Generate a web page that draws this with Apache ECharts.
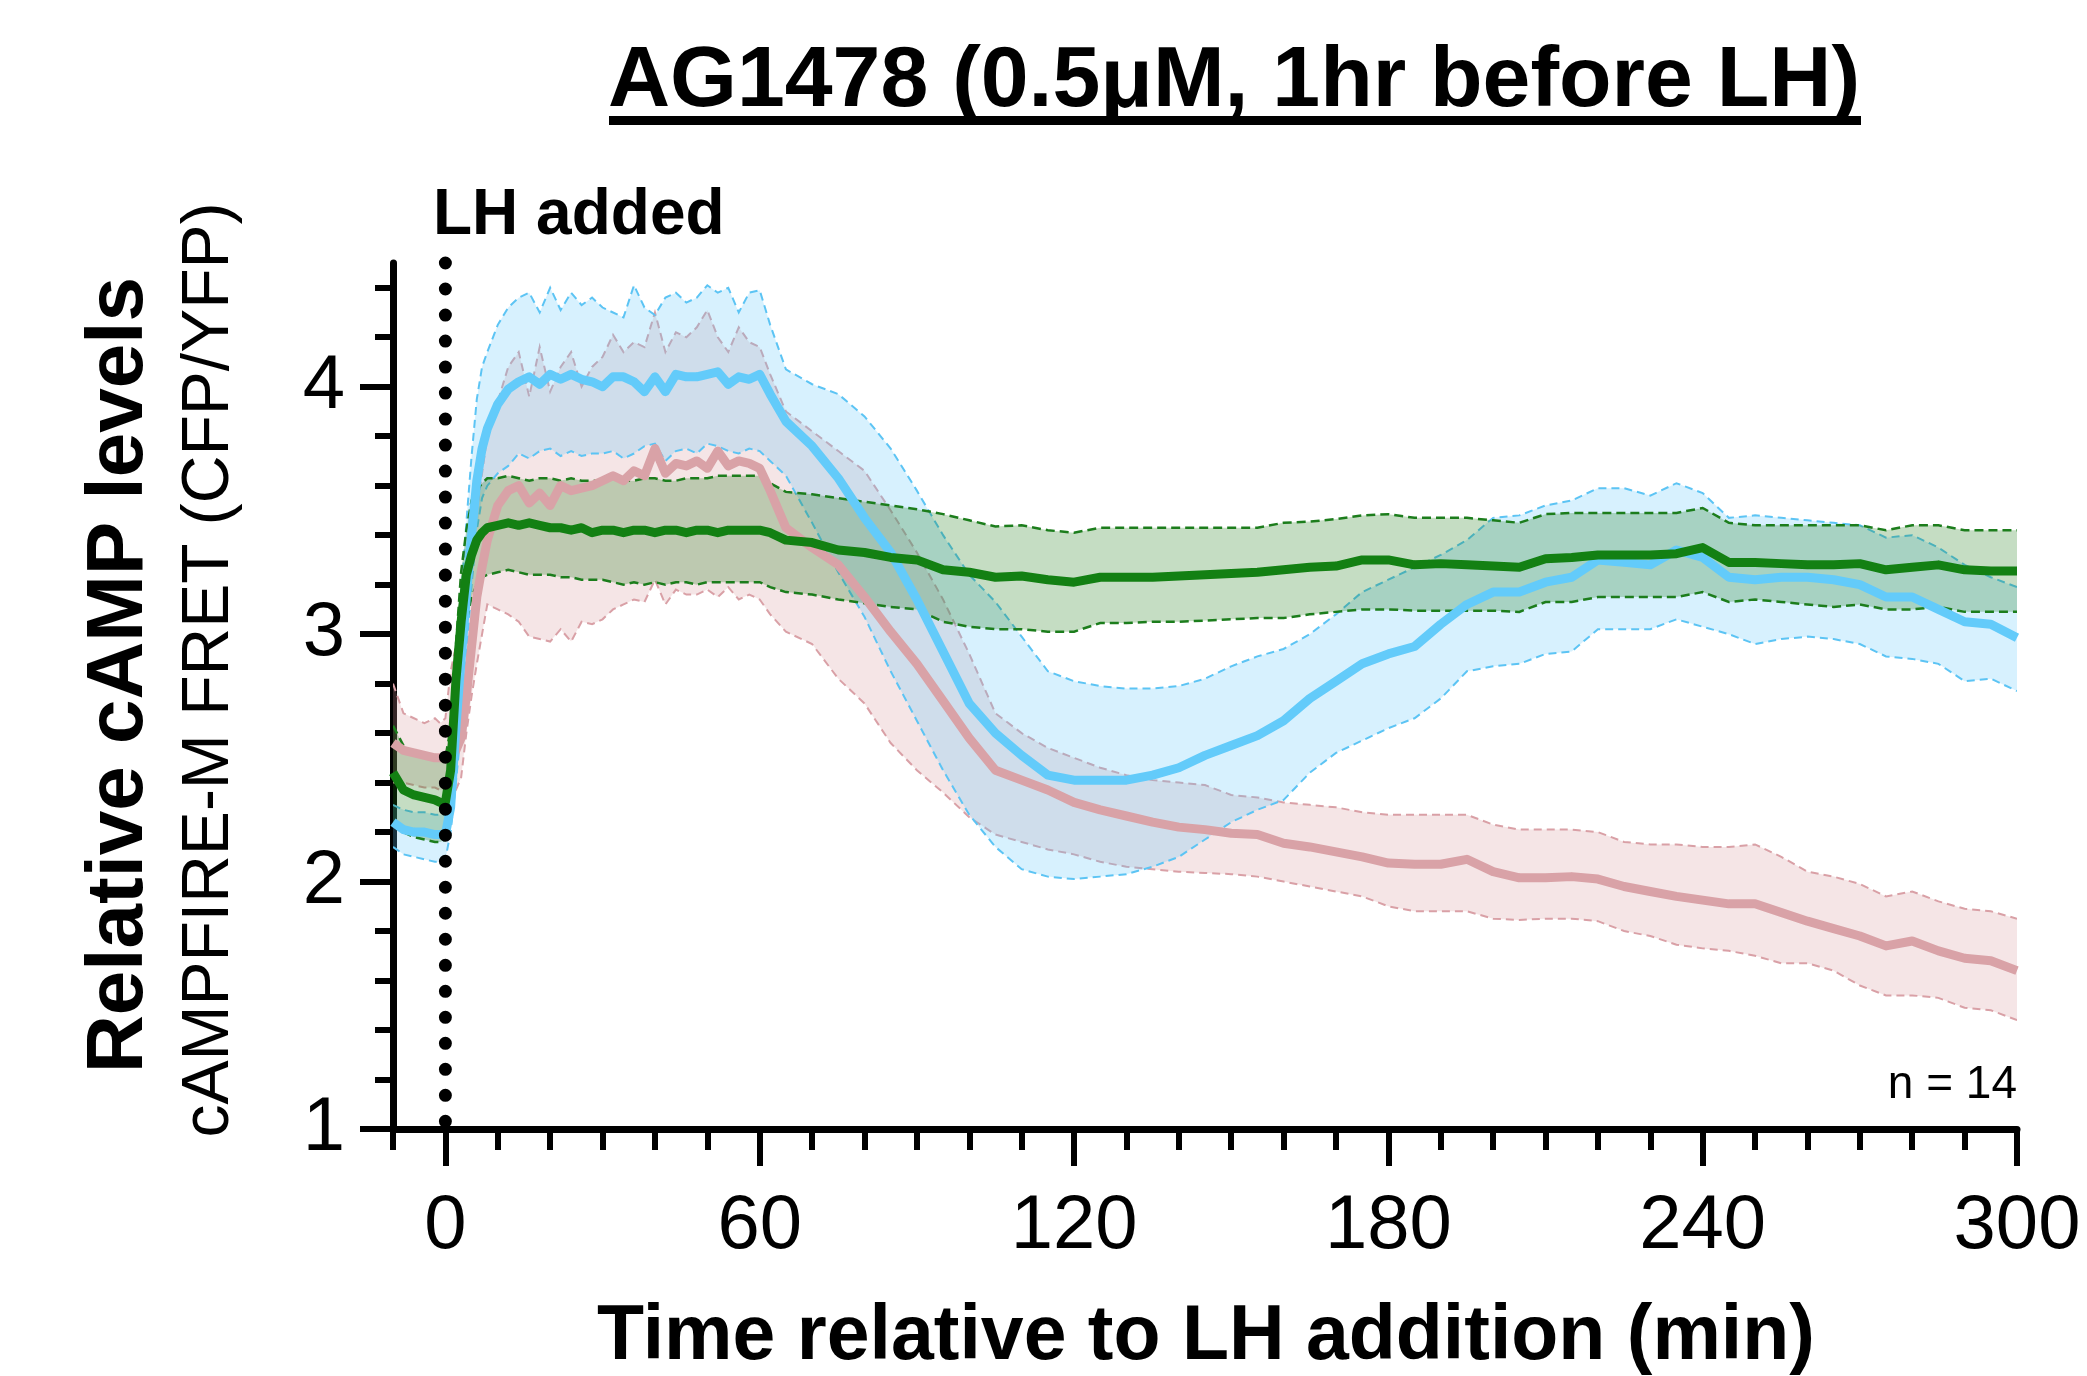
<!DOCTYPE html>
<html>
<head>
<meta charset="utf-8">
<script src="https://cdn.jsdelivr.net/npm/echarts@6/dist/echarts.min.js"></script>
<style>
	html, body {margin: 0; padding: 0; background: #fff;}
	#chart {width: 2087px; height: 1376px;}
</style>
</head>
<body>
<div id="chart"></div>
<script>
// time (min) relative to LH addition
let time = [-10, -8, -6, -4, -2, -1,
	0, 1, 2, 3, 4, 5, 6, 7, 8,
	10, 12, 14, 16, 18, 20, 22, 24, 26, 28, 30, 32, 34, 36, 38, 40, 42, 44, 46, 48, 50, 52, 54, 56, 58, 60,
	62,
	65, 70, 75, 80, 85, 90, 95, 100, 105, 110, 115, 120, 125, 130, 135, 140, 145, 150, 155, 160,
	165, 170, 175, 180, 185, 190, 195, 200, 205, 210, 215, 220, 225, 230, 235, 240, 245, 250, 255, 260,
	265, 270, 275, 280, 285, 290, 295, 300];

let pinkMean = [2.56, 2.53, 2.52, 2.51, 2.50, 2.50,
	2.50, 2.50, 2.53, 2.58, 2.75, 2.95, 3.15, 3.27, 3.38,
	3.52, 3.58, 3.60, 3.53, 3.57, 3.52, 3.60, 3.58, 3.59, 3.60, 3.62, 3.64, 3.62, 3.66, 3.64, 3.75, 3.65, 3.69, 3.68, 3.70, 3.67, 3.74, 3.68, 3.70, 3.69, 3.67,
	3.58,
	3.43, 3.35, 3.28, 3.15, 3.01, 2.88, 2.73, 2.58, 2.45, 2.41, 2.37, 2.32, 2.29, 2.265, 2.24, 2.22,
	2.21, 2.195, 2.19, 2.155, 2.14, 2.12, 2.10, 2.075, 2.07, 2.07, 2.09, 2.04, 2.015, 2.015, 2.02, 2.01,
	1.98, 1.96, 1.94, 1.925, 1.91, 1.91, 1.875, 1.84, 1.81, 1.78, 1.74, 1.76, 1.72, 1.69, 1.68, 1.64];
let pinkUpper = [2.80, 2.68, 2.66, 2.64, 2.66, 2.64,
	2.66, 2.85, 2.95, 3.05, 3.20, 3.35, 3.50, 3.65, 3.80,
	3.94, 4.08, 4.14, 3.96, 4.16, 3.98, 4.08, 4.14, 4.00, 4.08, 4.12, 4.21, 4.14, 4.18, 4.16, 4.30, 4.14, 4.22, 4.20, 4.24, 4.31, 4.20, 4.14, 4.24, 4.18, 4.16,
	4.05,
	3.90, 3.82, 3.74, 3.66, 3.50, 3.33, 3.14, 2.92, 2.68, 2.60, 2.54, 2.50, 2.46, 2.43, 2.41, 2.40,
	2.39, 2.35, 2.34, 2.32, 2.31, 2.30, 2.28, 2.27, 2.27, 2.27, 2.27, 2.23, 2.21, 2.21, 2.21, 2.20,
	2.16, 2.15, 2.15, 2.14, 2.14, 2.15, 2.10, 2.04, 2.02, 1.99, 1.94, 1.96, 1.92, 1.89, 1.88, 1.85];
let pinkLower = [2.40, 2.40, 2.39, 2.38, 2.38, 2.37,
	2.37, 2.36, 2.37, 2.42, 2.60, 2.75, 2.88, 3.00, 3.12,
	3.10, 3.08, 3.05, 2.99, 2.98, 2.97, 3.02, 2.97, 3.05, 3.04, 3.06, 3.10, 3.12, 3.14, 3.13, 3.22, 3.12, 3.18, 3.16, 3.16, 3.18, 3.15, 3.19, 3.14, 3.16, 3.14,
	3.08,
	3.01, 2.96, 2.82, 2.72, 2.56, 2.45, 2.36, 2.26, 2.19, 2.16, 2.13, 2.11, 2.08, 2.06, 2.05, 2.04,
	2.035, 2.03, 2.02, 2.00, 1.98, 1.96, 1.94, 1.90, 1.88, 1.88, 1.88, 1.85, 1.845, 1.85, 1.85, 1.84,
	1.80, 1.78, 1.745, 1.73, 1.72, 1.70, 1.67, 1.67, 1.64, 1.58, 1.54, 1.54, 1.53, 1.49, 1.48, 1.44];

let blueMean = [2.24, 2.21, 2.20, 2.20, 2.19, 2.19,
	2.19, 2.30, 2.62, 2.90, 3.15, 3.40, 3.62, 3.75, 3.83,
	3.93, 3.99, 4.02, 4.04, 4.01, 4.05, 4.03, 4.05, 4.03, 4.02, 4.00, 4.04, 4.04, 4.02, 3.98, 4.04, 3.98, 4.05, 4.04, 4.04, 4.05, 4.06, 4.01, 4.04, 4.03, 4.05,
	3.97,
	3.86, 3.76, 3.63, 3.47, 3.33, 3.14, 2.93, 2.72, 2.60, 2.51, 2.43, 2.41, 2.41, 2.41, 2.43, 2.46,
	2.51, 2.55, 2.59, 2.65, 2.74, 2.81, 2.88, 2.92, 2.95, 3.04, 3.12, 3.17, 3.17, 3.21, 3.23, 3.30,
	3.29, 3.28, 3.34, 3.31, 3.23, 3.22, 3.23, 3.23, 3.22, 3.20, 3.15, 3.15, 3.10, 3.05, 3.04, 2.985];
let blueUpper = [2.31, 2.29, 2.28, 2.28, 2.27, 2.27,
	2.27, 2.50, 2.85, 3.15, 3.45, 3.72, 3.95, 4.08, 4.14,
	4.25, 4.32, 4.36, 4.38, 4.30, 4.40, 4.31, 4.38, 4.33, 4.36, 4.32, 4.30, 4.28, 4.41, 4.32, 4.29, 4.36, 4.38, 4.34, 4.36, 4.41, 4.38, 4.40, 4.30, 4.38, 4.39,
	4.25,
	4.07, 4.01, 3.97, 3.88, 3.75, 3.58, 3.40, 3.24, 3.13, 2.99, 2.85, 2.81, 2.79, 2.78, 2.78, 2.79,
	2.82, 2.87, 2.91, 2.94, 3.00, 3.08, 3.17, 3.22, 3.27, 3.32, 3.38, 3.47, 3.48, 3.52, 3.54, 3.59,
	3.59, 3.56, 3.61, 3.57, 3.47, 3.48, 3.47, 3.46, 3.45, 3.44, 3.39, 3.40, 3.35, 3.28, 3.23, 3.19];
let blueLower = [2.14, 2.11, 2.10, 2.09, 2.08, 2.08,
	2.09, 2.20, 2.40, 2.62, 2.90, 3.20, 3.42, 3.55, 3.60,
	3.65, 3.68, 3.73, 3.71, 3.74, 3.75, 3.72, 3.74, 3.72, 3.73, 3.73, 3.74, 3.71, 3.73, 3.76, 3.77, 3.70, 3.74, 3.75, 3.73, 3.77, 3.76, 3.74, 3.73, 3.75, 3.74,
	3.70,
	3.64, 3.45, 3.25, 3.07, 2.85, 2.65, 2.45, 2.27, 2.14, 2.05, 2.02, 2.01, 2.02, 2.03, 2.06, 2.10,
	2.17, 2.24, 2.29, 2.33, 2.44, 2.52, 2.57, 2.62, 2.66, 2.74, 2.85, 2.87, 2.88, 2.92, 2.93, 3.02,
	3.02, 3.02, 3.06, 3.03, 3.00, 2.96, 2.98, 2.99, 2.98, 2.96, 2.91, 2.90, 2.88, 2.81, 2.82, 2.77];

let greenMean = [2.44, 2.37, 2.35, 2.34, 2.33, 2.32,
	2.32, 2.45, 2.81, 3.05, 3.24, 3.32, 3.38, 3.41, 3.43,
	3.44, 3.45, 3.44, 3.45, 3.44, 3.43, 3.43, 3.42, 3.43, 3.41, 3.42, 3.42, 3.41, 3.42, 3.42, 3.41, 3.42, 3.42, 3.41, 3.42, 3.42, 3.41, 3.42, 3.42, 3.42, 3.42,
	3.41,
	3.38, 3.37, 3.34, 3.33, 3.31, 3.30, 3.26, 3.25, 3.23, 3.235, 3.22, 3.21, 3.23, 3.23, 3.23, 3.235,
	3.24, 3.245, 3.25, 3.26, 3.27, 3.275, 3.30, 3.30, 3.28, 3.285, 3.28, 3.275, 3.27, 3.305, 3.31, 3.32,
	3.32, 3.32, 3.325, 3.35, 3.29, 3.29, 3.285, 3.28, 3.28, 3.285, 3.26, 3.27, 3.28, 3.26, 3.255, 3.255];
let greenUpper = [2.63, 2.55, 2.52, 2.51, 2.50, 2.50,
	2.50, 2.62, 2.95, 3.25, 3.42, 3.54, 3.58, 3.61, 3.63,
	3.63, 3.64, 3.63, 3.62, 3.63, 3.63, 3.62, 3.63, 3.62, 3.62, 3.62, 3.63, 3.62, 3.62, 3.63, 3.63, 3.62, 3.62, 3.63, 3.63, 3.63, 3.64, 3.64, 3.64, 3.64, 3.64,
	3.61,
	3.575, 3.565, 3.55, 3.535, 3.52, 3.505, 3.485, 3.46, 3.435, 3.44, 3.42, 3.41, 3.43, 3.43, 3.43, 3.43,
	3.43, 3.43, 3.43, 3.45, 3.455, 3.465, 3.48, 3.485, 3.47, 3.47, 3.47, 3.46, 3.45, 3.485, 3.49, 3.49,
	3.49, 3.49, 3.49, 3.51, 3.45, 3.44, 3.44, 3.44, 3.44, 3.44, 3.42, 3.44, 3.44, 3.42, 3.42, 3.42];
let greenLower = [2.24, 2.20, 2.18, 2.17, 2.16, 2.16,
	2.17, 2.25, 2.55, 2.85, 3.05, 3.15, 3.20, 3.23, 3.24,
	3.25, 3.26, 3.25, 3.24, 3.24, 3.24, 3.23, 3.23, 3.22, 3.22, 3.22, 3.21, 3.20, 3.21, 3.20, 3.21, 3.20, 3.21, 3.21, 3.20, 3.21, 3.21, 3.21, 3.21, 3.21, 3.21,
	3.19,
	3.17, 3.16, 3.14, 3.125, 3.11, 3.10, 3.05, 3.03, 3.02, 3.02, 3.01, 3.01, 3.045, 3.045, 3.05, 3.05,
	3.055, 3.06, 3.065, 3.065, 3.08, 3.09, 3.10, 3.10, 3.095, 3.095, 3.095, 3.095, 3.09, 3.13, 3.13, 3.15,
	3.15, 3.15, 3.15, 3.17, 3.13, 3.14, 3.13, 3.12, 3.11, 3.12, 3.10, 3.10, 3.11, 3.09, 3.09, 3.09];

let lhTime = 0;
let xMajor = [0, 60, 120, 180, 240, 300];
let yMajor = [1, 2, 3, 4];

let font = '"Liberation Sans", Arial, Helvetica, sans-serif';

function pairs(t, v) {
	let out = [];
	for (let i = 0; i < t.length; i++) {
		out.push([t[i], v[i]]);
	}
	return out;
}

// shaded band (custom polygon between lower and upper) + dashed edges, then the mean line
function group(mean, upper, lower, lineColor, edgeColor, fill, edgeWidth, dash) {
	let rows = [];
	for (let i = 0; i < time.length; i++) {
		rows.push([time[i], lower[i], upper[i]]);
	}
	return [{
		type: 'custom',
		data: rows,
		encode: {x: 0, y: [1, 2]},
		clip: true,
		renderItem: function (params, api) {
			if (params.dataIndex !== 0) return;
			let top = [], bot = [];
			for (let i = 0; i < time.length; i++) {
				top.push(api.coord([time[i], upper[i]]));
				bot.push(api.coord([time[i], lower[i]]));
			}
			let poly = top.concat(bot.slice().reverse());
			return {
				type: 'group',
				children: [{
					type: 'polygon',
					shape: {points: poly},
					style: {fill: fill, stroke: null}
				}, {
					type: 'polyline',
					shape: {points: top},
					style: {fill: null, stroke: edgeColor, lineWidth: edgeWidth, lineDash: dash}
				}, {
					type: 'polyline',
					shape: {points: bot},
					style: {fill: null, stroke: edgeColor, lineWidth: edgeWidth, lineDash: dash}
				}]
			};
		}
	}, {
		type: 'line',
		data: pairs(time, mean),
		symbol: 'none',
		lineStyle: {color: lineColor, width: 9, join: 'round'}
	}];
}

let minorY = [];
for (let v = 12; v <= 44; v += 2) {
	if (v % 10 !== 0) minorY.push(v / 10);
}

let mychart = echarts.init(document.getElementById('chart'));
let option = {
	animation: false,
	backgroundColor: '#fff',
	grid: {left: 393, right: 70, top: 263, bottom: 247},
	xAxis: [{
		type: 'value',
		min: -10,
		max: 300,
		position: 'bottom',
		axisLine: {onZero: false, lineStyle: {color: '#000', width: 7}},
		axisTick: {customValues: xMajor, length: 37, lineStyle: {color: '#000', width: 6}},
		axisLabel: {customValues: xMajor, color: '#000', fontSize: 76, fontFamily: font, margin: 60},
		splitLine: {show: false}
	}, {
		type: 'value',
		min: -10,
		max: 300,
		interval: 10,
		position: 'bottom',
		axisLine: {show: false, onZero: false},
		axisTick: {length: 21, lineStyle: {color: '#000', width: 6}},
		axisLabel: {show: false},
		splitLine: {show: false}
	}],
	yAxis: [{
		type: 'value',
		min: 1,
		max: 4.5,
		position: 'left',
		axisLine: {show: true, onZero: false, lineStyle: {color: '#000', width: 7}},
		axisTick: {show: true, customValues: yMajor, length: 33, lineStyle: {color: '#000', width: 6}},
		axisLabel: {customValues: yMajor, color: '#000', fontSize: 76, fontFamily: font, margin: 48},
		splitLine: {show: false}
	}, {
		type: 'value',
		min: 1,
		max: 4.5,
		position: 'left',
		axisLine: {show: false, onZero: false},
		axisTick: {show: true, customValues: minorY, length: 18, lineStyle: {color: '#000', width: 6}},
		axisLabel: {show: false},
		splitLine: {show: false}
	}],
	series: [].concat(
		group(pinkMean, pinkUpper, pinkLower, '#d9a2a7', '#d9a0a6', 'rgba(215,150,155,0.25)', 2, [8, 5]),
		group(blueMean, blueUpper, blueLower, '#63cbfa', '#5cc4f4', 'rgba(95,200,250,0.25)', 2, [8, 5]),
		group(greenMean, greenUpper, greenLower, '#138013', '#1c7d1c', 'rgba(25,120,15,0.25)', 2.5, [9, 5]),
		[{
			// dotted marker where LH was added
			type: 'custom',
			data: [[lhTime, 1]],
			z: 5,
			renderItem: function (params, api) {
				let a = api.coord([lhTime, 4.5]);
				let b = api.coord([lhTime, 1]);
				return {
					type: 'line',
					shape: {x1: a[0], y1: a[1], x2: b[0], y2: b[1]},
					style: {stroke: '#000', lineWidth: 13, lineDash: [0.01, 26], lineCap: 'round'}
				};
			}
		}]
	),
	graphic: [{
		type: 'text', x: 1234, y: 82,
		style: {text: 'AG1478 (0.5μM, 1hr before LH)', font: 'bold 86px ' + font, fill: '#000',
			textAlign: 'center', textVerticalAlign: 'middle', align: 'center', verticalAlign: 'middle'}
	}, {
		type: 'rect',
		shape: {x: 609, y: 116, width: 1252, height: 9},
		style: {fill: '#000'}
	}, {
		type: 'text', x: 433, y: 216,
		style: {text: 'LH added', font: 'bold 64px ' + font, fill: '#000',
			textAlign: 'left', textVerticalAlign: 'middle', align: 'left', verticalAlign: 'middle'}
	}, {
		type: 'text', x: 2017, y: 1085,
		style: {text: 'n = 14', font: '46px ' + font, fill: '#000',
			textAlign: 'right', textVerticalAlign: 'middle', align: 'right', verticalAlign: 'middle'}
	}, {
		type: 'text', x: 1206, y: 1338,
		style: {text: 'Time relative to LH addition (min)', font: 'bold 77px ' + font, fill: '#000',
			textAlign: 'center', textVerticalAlign: 'middle', align: 'center', verticalAlign: 'middle'}
	}, {
		type: 'text', x: 120, y: 675, rotation: Math.PI / 2,
		style: {text: 'Relative cAMP levels', font: 'bold 80px ' + font, fill: '#000',
			textAlign: 'center', textVerticalAlign: 'middle', align: 'center', verticalAlign: 'middle'}
	}, {
		type: 'text', x: 210, y: 670, rotation: Math.PI / 2,
		style: {text: 'cAMPFIRE-M FRET (CFP/YFP)', font: '66px ' + font, fill: '#000',
			textAlign: 'center', textVerticalAlign: 'middle', align: 'center', verticalAlign: 'middle'}
	}]
};

mychart.setOption(option);
</script>
</body>
</html>
